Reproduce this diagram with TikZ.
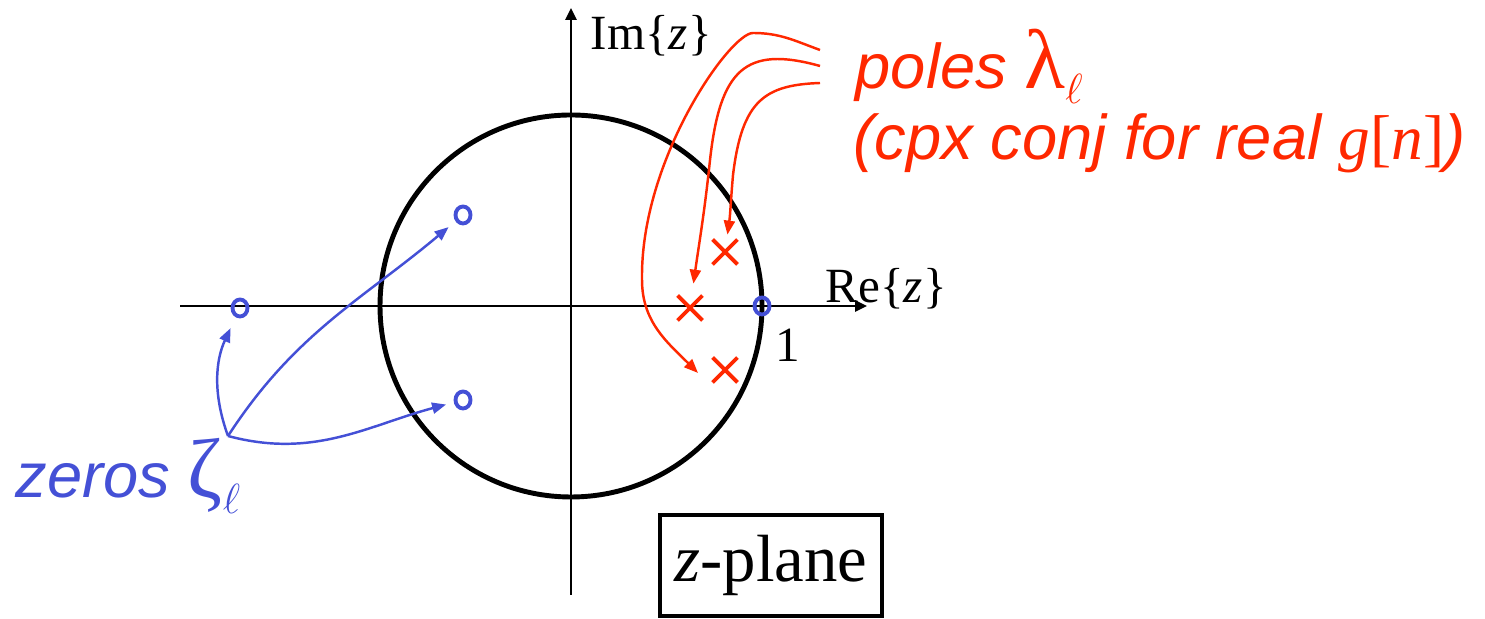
\documentclass[tikz,border=0pt]{standalone}
\usepackage{fontspec}
\setmainfont{Liberation Serif}
\newfontfamily\arialfont{Liberation Sans}
\usepackage{tikz}
\usetikzlibrary{arrows.meta, shapes.geometric, shapes.misc}
\definecolor{zblue}{RGB}{68,80,214}
\definecolor{pred}{RGB}{255,40,0}
\newcommand{\greek}[1]{{\rmfamily\upshape\fontsize{24}{24}\selectfont #1}}
\newcommand{\ellsub}{\raisebox{-0.45ex}{$\scriptstyle\ell$}}

\begin{document}
\begin{tikzpicture}[
  axis/.style={-{Triangle[length=1.2mm,width=1.1mm]}, line width=0.75pt},
  zero/.style={draw=zblue, ellipse, line width=1.1pt, minimum width=0.15cm, minimum height=0.17cm, inner sep=0pt},
  pole/.style={draw=pred, cross out, line width=1.1pt, minimum size=0.21cm, inner sep=0pt},
  zarrow/.style={-{Triangle[length=1.4mm,width=1.1mm]}, zblue, line width=0.7pt},
  parrow/.style={-{Triangle[length=1.4mm,width=1.1mm]}, pred, line width=0.7pt},
  lbl/.style={font=\fontsize{14}{17}\selectfont, inner sep=0pt},
  note/.style={font=\arialfont\itshape\fontsize{18}{22}\selectfont, inner sep=0pt},
  ]
  \useasboundingbox (0,0) rectangle (14.85,-6.19);

  % Axes and unit circle
  \coordinate (O) at (5.71,-3.06);
  \coordinate (xs) at (1.80,-3.06);
  \coordinate (xe) at (8.67,-3.06);
  \coordinate (ys) at (5.71,-5.95);
  \coordinate (ye) at (5.71,-0.08);
  \draw[axis] (xs) -- (xe);
  \draw[axis] (ys) -- (ye);
  \draw[line width=1.4pt] (O) circle (1.91);

  \node[lbl, anchor=base west] (im) at (5.90,-0.50) {Im\{\textit{z}\}};
  \node[lbl, anchor=base west] (re) at (8.25,-3.03) {Re\{\textit{z}\}};
  \node[lbl, anchor=base west] (one) at (7.75,-3.62) {1};

  % Zeros
  \node[zero] (z1) at (2.40,-3.08) {};
  \node[zero] (z2) at (4.63,-2.15) {};
  \node[zero] (z3) at (4.63,-4.00) {};
  \node[zero] (z4) at (7.62,-3.06) {};

  % Poles
  \node[pole] (p1) at (7.25,-2.52) {};
  \node[pole] (p2) at (6.90,-3.08) {};
  \node[pole] (p3) at (7.25,-3.70) {};

  % Labels
  \node[note, text=pred, anchor=base west] (poles) at (8.55,-0.885) {poles \greek{λ}\ellsub};
  \node[note, text=pred, anchor=base west] (cpx) at (8.53,-1.60) {(cpx conj for real {\rmfamily\upshape\textit{g}[\textit{n}]})};
  \node[note, text=zblue, anchor=base west] (zeros) at (0.15,-4.98) {zeros \greek{ζ}\ellsub};

  \node[draw, line width=1.15pt, minimum width=2.22cm, minimum height=1.01cm, font=\fontsize{19}{22}\selectfont] (zp) at (7.71,-5.655) {\textit{z}-plane};

  % Arrows to the zeros
  \coordinate (zsrc) at (2.28,-4.36);
  \draw[zarrow, shorten >=0.12cm] (zsrc) to[out=110,in=245] (z1);
  \draw[zarrow, shorten >=0.09cm] (zsrc) to[out=57,in=220] (z2);
  \draw[zarrow, shorten >=0.08cm] (zsrc) to[out=-15,in=195] (z3);

  % Arrows to the poles
  \coordinate (r1) at (8.20,-0.50);
  \coordinate (r2) at (8.20,-0.66);
  \coordinate (r3) at (8.20,-0.83);
  \draw[parrow] (r1) to[out=160,in=0] (7.53,-0.33) .. controls (7.30,-0.33) and (6.40,-1.6) .. (6.42,-2.8) to[out=-90,in=135] ([xshift=-0.27cm,yshift=-0.03cm]p3.center);
  \draw[parrow, shorten >=0.12cm] (r2) .. controls (7.45,-0.45) and (7.20,-0.70) .. (7.10,-1.6) to[out=-96,in=82] (p2);
  \draw[parrow, shorten >=0.05cm] (r3) .. controls (7.65,-0.85) and (7.42,-1.0) .. (7.33,-1.75) to[out=-95,in=82] (p1);

\end{tikzpicture}
\end{document}
